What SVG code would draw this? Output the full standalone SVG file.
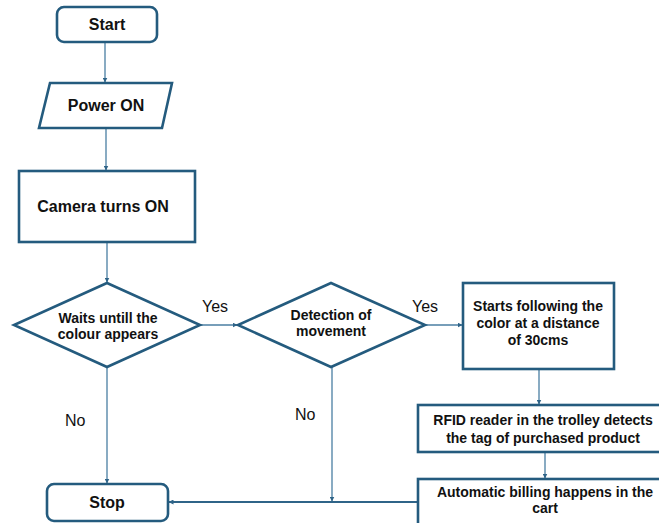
<svg xmlns="http://www.w3.org/2000/svg" width="659" height="523" viewBox="0 0 659 523">
<defs>
<marker id="ah" viewBox="0 0 10 10" refX="9" refY="5" markerWidth="5" markerHeight="5" orient="auto" markerUnits="userSpaceOnUse">
<path d="M0,0 L10,5 L0,10 z" fill="#2f6488"/>
</marker>
<style>
.node{fill:#fff;stroke:#245b7e;stroke-width:2.6}
.t{font-family:"Liberation Sans",Arial,sans-serif;font-weight:bold;fill:#111;text-anchor:middle}
.l{font-family:"Liberation Sans",Arial,sans-serif;fill:#111;font-size:16px}
.c{fill:none;stroke:#4a7ea2;stroke-width:1.3}
</style>
</defs>
<rect width="659" height="523" fill="#fff"/>
<g id="connectors">
<line class="c" x1="105" y1="42" x2="105" y2="82" marker-end="url(#ah)"/>
<line class="c" x1="106" y1="128" x2="106" y2="170" marker-end="url(#ah)"/>
<line class="c" x1="107" y1="242" x2="107" y2="282" marker-end="url(#ah)"/>
<line class="c" x1="200" y1="325" x2="237" y2="325" marker-end="url(#ah)"/>
<line class="c" x1="425" y1="325" x2="462" y2="325" marker-end="url(#ah)"/>
<line class="c" x1="539" y1="369" x2="539" y2="404" marker-end="url(#ah)"/>
<line class="c" x1="545" y1="452" x2="545" y2="478" marker-end="url(#ah)"/>
<line class="c" x1="107" y1="367" x2="107" y2="483" marker-end="url(#ah)"/>
<line class="c" x1="332" y1="367" x2="332" y2="501" marker-end="url(#ah)"/>
<line class="c" style="stroke:#2f6488;stroke-width:1.8" x1="418" y1="502" x2="169" y2="502" marker-end="url(#ah)"/>
<text class="l" x="202" y="312">Yes</text>
<text class="l" x="412" y="312">Yes</text>
<text class="l" x="65" y="426">No</text>
<text class="l" x="295" y="420">No</text>
</g>
<g id="start">
<rect class="node" x="57" y="7" width="100" height="35" rx="7"/>
<text class="t" x="107" y="30" font-size="16">Start</text>
</g>
<g id="power">
<polygon class="node" points="50,83 172,83 162,128 39,128"/>
<text class="t" x="106" y="111" font-size="16">Power ON</text>
</g>
<g id="camera">
<rect class="node" x="19" y="171" width="176" height="71"/>
<text class="t" x="103" y="212" font-size="16">Camera turns ON</text>
</g>
<g id="waits">
<polygon class="node" points="107,283 200,325 107,367 14,325"/>
<text class="t" x="108" y="323" font-size="14">Waits untill the</text>
<text class="t" x="108" y="339" font-size="14">colour appears</text>
</g>
<g id="detection">
<polygon class="node" points="331,283 425,325 331,367 238,325"/>
<text class="t" x="331" y="320" font-size="14">Detection of</text>
<text class="t" x="331" y="336" font-size="14">movement</text>
</g>
<g id="follow">
<rect class="node" x="463" y="283" width="151" height="86"/>
<text class="t" x="538" y="311" font-size="14">Starts following the</text>
<text class="t" x="538" y="328" font-size="14">color at a distance</text>
<text class="t" x="538" y="345" font-size="14">of 30cms</text>
</g>
<g id="rfid">
<rect class="node" x="418" y="405" width="250" height="47"/>
<text class="t" x="543" y="425" font-size="14">RFID reader in the trolley detects</text>
<text class="t" x="543" y="443" font-size="14">the tag of purchased product</text>
</g>
<g id="billing">
<rect class="node" x="418" y="479" width="250" height="60"/>
<text class="t" x="545" y="497" font-size="14">Automatic billing happens in the</text>
<text class="t" x="545" y="513" font-size="14">cart</text>
</g>
<g id="stop">
<rect class="node" x="47" y="484" width="121" height="37" rx="7"/>
<text class="t" x="107" y="508" font-size="16">Stop</text>
</g>
</svg>
